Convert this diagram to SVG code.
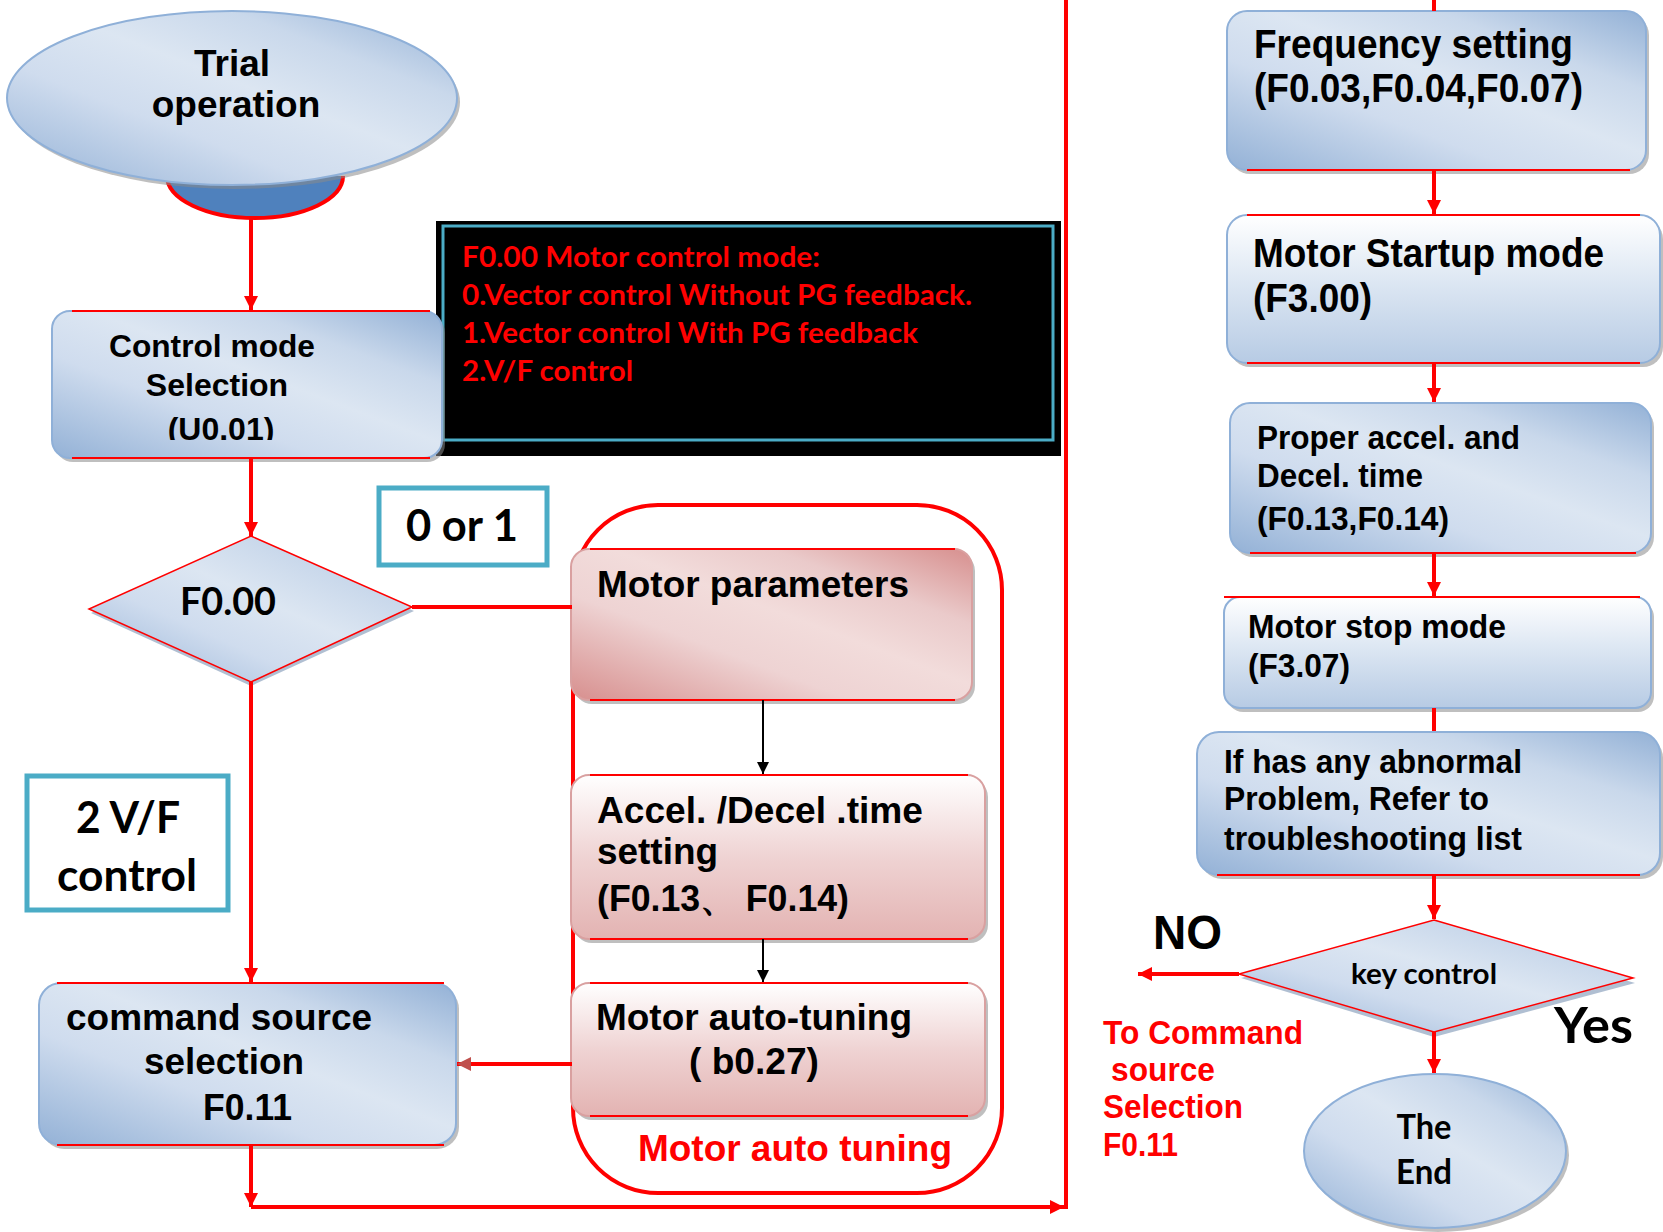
<svg xmlns="http://www.w3.org/2000/svg" width="1663" height="1232" viewBox="0 0 1663 1232">
<style>
.t{font-family:"Liberation Sans",Arial,sans-serif;font-weight:bold;fill:#000}
.c{font-family:Lato,"Open Sans",sans-serif;font-weight:bold;fill:#000}
.r{fill:#ff0000}
.bx{stroke:#8fb0d8;stroke-width:2}
.px{stroke:#d9a0a0;stroke-width:2}
.sh{fill:#8a8a8a;opacity:.55}
.rl{stroke:#ff0000;stroke-width:2;fill:none}
.ln{stroke:#ff0000;stroke-width:4;fill:none}
.bl{stroke:#000;stroke-width:2;fill:none}
.cy{fill:#fff;stroke:#4bacc6;stroke-width:5}
</style>
<defs>
<linearGradient id="gB" x1="0" y1="1" x2="1" y2="0">
<stop offset="0" stop-color="#93b1d6"/><stop offset="0.35" stop-color="#cfdcee"/><stop offset="0.55" stop-color="#dce6f2"/><stop offset="0.75" stop-color="#c9d8eb"/><stop offset="1" stop-color="#93b1d6"/>
</linearGradient>
<linearGradient id="gV" x1="0" y1="0" x2="0" y2="1">
<stop offset="0" stop-color="#ffffff"/><stop offset="0.45" stop-color="#dde7f3"/><stop offset="1" stop-color="#b7cbe4"/>
</linearGradient>
<linearGradient id="gP" x1="0" y1="1" x2="1" y2="0">
<stop offset="0" stop-color="#d78f8e"/><stop offset="0.35" stop-color="#eed3d3"/><stop offset="0.55" stop-color="#f2dcdb"/><stop offset="0.75" stop-color="#eacaca"/><stop offset="1" stop-color="#d78f8e"/>
</linearGradient>
<linearGradient id="gPV" x1="0" y1="0" x2="0" y2="1">
<stop offset="0" stop-color="#ffffff"/><stop offset="0.5" stop-color="#efd3d3"/><stop offset="1" stop-color="#e3b3b2"/>
</linearGradient>
<marker id="ar" viewBox="0 0 10 10" refX="10" refY="5" markerWidth="14" markerHeight="14" markerUnits="userSpaceOnUse" orient="auto">
<path d="M0,0 L10,5 L0,10 z" fill="#ff0000"/>
</marker>
<marker id="ad" viewBox="0 0 10 10" refX="10" refY="5" markerWidth="14" markerHeight="14" markerUnits="userSpaceOnUse" orient="auto">
<path d="M0,0 L10,5 L0,10 z" fill="#c0504d"/>
</marker>
<marker id="ab" viewBox="0 0 10 10" refX="10" refY="5" markerWidth="12" markerHeight="12" markerUnits="userSpaceOnUse" orient="auto">
<path d="M0,0 L10,5 L0,10 z" fill="#000"/>
</marker>
<clipPath id="clipCtl"><rect x="40" y="300" width="420" height="140"/></clipPath>
</defs>
<rect width="1663" height="1232" fill="#fff"/>

<g id="trial">
<path d="M167,176 A88,42 0 0 0 343,176 Z" fill="#4f81bd"/>
<path d="M167,176 A88,42 0 0 0 343,176" stroke="#ff0000" stroke-width="4" fill="none"/>
<ellipse cx="235" cy="102" rx="225" ry="87" class="sh"/>
<ellipse cx="232" cy="98" rx="225" ry="87" fill="url(#gB)" class="bx"/>
<text class="t" x="232" y="76" font-size="37" text-anchor="middle">Trial</text>
<text class="t" x="236" y="117" font-size="37" text-anchor="middle">operation</text>
</g>

<g id="modeinfo">
<rect x="436" y="221" width="625" height="235" fill="#000"/>
<rect x="443" y="226" width="610" height="214" fill="none" stroke="#4bacc6" stroke-width="3"/>
<text class="c r" x="462" y="267" font-size="28" textLength="358" lengthAdjust="spacingAndGlyphs">F0.00 Motor control mode:</text>
<text class="c r" x="462" y="305" font-size="28" textLength="510" lengthAdjust="spacingAndGlyphs">0.Vector control Without PG feedback.</text>
<text class="c r" x="462" y="343" font-size="28" textLength="456" lengthAdjust="spacingAndGlyphs">1.Vector control With PG feedback</text>
<text class="c r" x="462" y="381" font-size="28" textLength="171" lengthAdjust="spacingAndGlyphs">2.V/F control</text>
</g>

<g id="control">
<rect x="55" y="315" width="390" height="147" rx="18" class="sh"/>
<rect x="52" y="311" width="390" height="147" rx="18" fill="url(#gB)" class="bx"/>
<line x1="72" y1="311" x2="430" y2="311" class="rl"/>
<line x1="72" y1="458" x2="430" y2="458" class="rl"/>
<g clip-path="url(#clipCtl)">
<text class="t" x="212" y="357" font-size="32" text-anchor="middle" textLength="206" lengthAdjust="spacingAndGlyphs">Control mode</text>
<text class="t" x="217" y="396" font-size="32" text-anchor="middle">Selection</text>
<text class="t" x="221" y="440" font-size="32" text-anchor="middle">(U0.01)</text>
</g>
</g>

<g id="f000">
<polygon points="251,540 414,611 251,686 91,613" fill="#8fa4bf" opacity="0.7"/>
<polygon points="251,536 412,607 251,682 89,609" fill="url(#gB)" stroke="#ff0000" stroke-width="1.5"/>
<text class="c" x="228" y="615" font-size="38" text-anchor="middle" textLength="96" lengthAdjust="spacingAndGlyphs">F0.00</text>
</g>

<g id="label01">
<rect x="379" y="488" width="168" height="77" class="cy"/>
<text class="c" x="462" y="541" font-size="44" text-anchor="middle" textLength="112" lengthAdjust="spacingAndGlyphs">0 or 1</text>
</g>

<g id="labelvf">
<rect x="27" y="776" width="201" height="134" class="cy"/>
<text class="c" x="128" y="833" font-size="44" text-anchor="middle" textLength="104" lengthAdjust="spacingAndGlyphs">2 V/F</text>
<text class="c" x="127" y="891" font-size="44" text-anchor="middle" textLength="140" lengthAdjust="spacingAndGlyphs">control</text>
</g>

<g id="command">
<rect x="42" y="987" width="417" height="162" rx="22" class="sh"/>
<rect x="39" y="983" width="417" height="162" rx="22" fill="url(#gB)" class="bx"/>
<line x1="57" y1="983" x2="444" y2="983" class="rl"/>
<line x1="57" y1="1145" x2="444" y2="1145" class="rl"/>
<text class="t" x="66" y="1030" font-size="37" textLength="306" lengthAdjust="spacingAndGlyphs">command source</text>
<text class="t" x="144" y="1074" font-size="37" textLength="160" lengthAdjust="spacingAndGlyphs">selection</text>
<text class="t" x="203" y="1120" font-size="37" textLength="89" lengthAdjust="spacingAndGlyphs">F0.11</text>
</g>

<g id="autotuning-group">
<rect x="573" y="505" width="429" height="688" rx="85" fill="none" stroke="#ff0000" stroke-width="4"/>
<text class="t r" x="638" y="1161" font-size="37" textLength="314" lengthAdjust="spacingAndGlyphs">Motor auto tuning</text>
</g>

<g id="motorparams">
<rect x="574" y="553" width="401" height="151" rx="18" class="sh"/>
<rect x="571" y="549" width="401" height="151" rx="18" fill="url(#gP)" class="px"/>
<line x1="590" y1="549" x2="955" y2="549" class="rl"/>
<line x1="590" y1="700" x2="955" y2="700" class="rl"/>
<text class="t" x="597" y="597" font-size="37" textLength="312" lengthAdjust="spacingAndGlyphs">Motor parameters</text>
</g>

<g id="acceltime">
<rect x="574" y="779" width="414" height="164" rx="18" class="sh"/>
<rect x="571" y="775" width="414" height="164" rx="18" fill="url(#gPV)" class="px"/>
<line x1="590" y1="775" x2="968" y2="775" class="rl"/>
<line x1="590" y1="939" x2="968" y2="939" class="rl"/>
<text class="t" x="597" y="823" font-size="37" textLength="326" lengthAdjust="spacingAndGlyphs">Accel. /Decel .time</text>
<text class="t" x="597" y="864" font-size="37" textLength="121" lengthAdjust="spacingAndGlyphs">setting</text>
<text class="t" x="597" y="911" font-size="37" textLength="252" lengthAdjust="spacingAndGlyphs">(F0.13、 F0.14)</text>
</g>

<g id="autotune">
<rect x="574" y="987" width="414" height="133" rx="18" class="sh"/>
<rect x="571" y="983" width="414" height="133" rx="18" fill="url(#gPV)" class="px"/>
<line x1="590" y1="983" x2="968" y2="983" class="rl"/>
<line x1="590" y1="1116" x2="968" y2="1116" class="rl"/>
<text class="t" x="596" y="1030" font-size="37" textLength="316" lengthAdjust="spacingAndGlyphs">Motor auto-tuning</text>
<text class="t" x="689" y="1074" font-size="37" textLength="130" lengthAdjust="spacingAndGlyphs">( b0.27)</text>
</g>

<g id="freq">
<rect x="1230" y="15" width="419" height="159" rx="20" class="sh"/>
<rect x="1227" y="11" width="419" height="159" rx="20" fill="url(#gB)" class="bx"/>
<line x1="1247" y1="170" x2="1630" y2="170" class="rl"/>
<text class="t" x="1254" y="58" font-size="40" textLength="319" lengthAdjust="spacingAndGlyphs">Frequency setting</text>
<text class="t" x="1254" y="102" font-size="40" textLength="329" lengthAdjust="spacingAndGlyphs">(F0.03,F0.04,F0.07)</text>
</g>

<g id="startup">
<rect x="1230" y="219" width="433" height="148" rx="20" class="sh"/>
<rect x="1227" y="215" width="433" height="148" rx="20" fill="url(#gV)" class="bx"/>
<line x1="1247" y1="215" x2="1640" y2="215" class="rl"/>
<line x1="1247" y1="363" x2="1640" y2="363" class="rl"/>
<text class="t" x="1253" y="267" font-size="40" textLength="351" lengthAdjust="spacingAndGlyphs">Motor Startup mode</text>
<text class="t" x="1253" y="312" font-size="40" textLength="119" lengthAdjust="spacingAndGlyphs">(F3.00)</text>
</g>

<g id="proper">
<rect x="1233" y="407" width="421" height="150" rx="20" class="sh"/>
<rect x="1230" y="403" width="421" height="150" rx="20" fill="url(#gB)" class="bx"/>
<line x1="1250" y1="553" x2="1636" y2="553" class="rl"/>
<text class="t" x="1257" y="449" font-size="34" textLength="263" lengthAdjust="spacingAndGlyphs">Proper accel. and</text>
<text class="t" x="1257" y="487" font-size="34" textLength="166" lengthAdjust="spacingAndGlyphs">Decel. time</text>
<text class="t" x="1257" y="530" font-size="34" textLength="192" lengthAdjust="spacingAndGlyphs">(F0.13,F0.14)</text>
</g>

<g id="stop">
<rect x="1227" y="601" width="427" height="111" rx="16" class="sh"/>
<rect x="1224" y="597" width="427" height="111" rx="16" fill="url(#gV)" class="bx"/>
<line x1="1224" y1="597" x2="1640" y2="597" class="rl"/>
<text class="t" x="1248" y="638" font-size="34" textLength="258" lengthAdjust="spacingAndGlyphs">Motor stop mode</text>
<text class="t" x="1248" y="677" font-size="34" textLength="102" lengthAdjust="spacingAndGlyphs">(F3.07)</text>
</g>

<g id="abnormal">
<rect x="1200" y="736" width="463" height="143" rx="22" class="sh"/>
<rect x="1197" y="732" width="463" height="143" rx="22" fill="url(#gB)" class="bx"/>
<line x1="1217" y1="875" x2="1640" y2="875" class="rl"/>
<text class="t" x="1224" y="773" font-size="34" textLength="298" lengthAdjust="spacingAndGlyphs">If has any abnormal</text>
<text class="t" x="1224" y="810" font-size="34" textLength="265" lengthAdjust="spacingAndGlyphs">Problem, Refer to</text>
<text class="t" x="1224" y="850" font-size="34" textLength="298" lengthAdjust="spacingAndGlyphs">troubleshooting list</text>
</g>

<g id="keycontrol">
<polygon points="1434,924 1635,983 1434,1037 1241,978" fill="#8fa4bf" opacity="0.7"/>
<polygon points="1434,920 1633,978 1434,1032 1239,974" fill="url(#gB)" stroke="#ff0000" stroke-width="1.5"/>
<text class="c" x="1424" y="984" font-size="28" text-anchor="middle" textLength="146" lengthAdjust="spacingAndGlyphs">key control</text>
</g>

<g id="labels">
<text class="t" x="1153" y="949" font-size="48" textLength="69" lengthAdjust="spacingAndGlyphs">NO</text>
<text class="c" x="1554" y="1043" font-size="50" textLength="79" lengthAdjust="spacingAndGlyphs">Yes</text>
<text class="t r" x="1103" y="1044" font-size="34" textLength="200" lengthAdjust="spacingAndGlyphs">To Command</text>
<text class="t r" x="1111" y="1081" font-size="34" textLength="104" lengthAdjust="spacingAndGlyphs">source</text>
<text class="t r" x="1103" y="1118" font-size="34" textLength="140" lengthAdjust="spacingAndGlyphs">Selection</text>
<text class="t r" x="1103" y="1156" font-size="34" textLength="75" lengthAdjust="spacingAndGlyphs">F0.11</text>
</g>

<g id="end">
<ellipse cx="1438" cy="1155" rx="131" ry="77" class="sh"/>
<ellipse cx="1435" cy="1151" rx="131" ry="77" fill="url(#gB)" class="bx"/>
<text class="c" x="1424" y="1139" font-size="34" text-anchor="middle" textLength="55" lengthAdjust="spacingAndGlyphs">The</text>
<text class="c" x="1424" y="1184" font-size="34" text-anchor="middle" textLength="56" lengthAdjust="spacingAndGlyphs">End</text>
</g>

<g id="connectors">
<path d="M251,217 V310" class="ln" marker-end="url(#ar)"/>
<path d="M251,458 V536" class="ln" marker-end="url(#ar)"/>
<path d="M251,682 V982" class="ln" marker-end="url(#ar)"/>
<path d="M412,607 H572" class="ln"/>
<path d="M763,700 V774" class="bl" marker-end="url(#ab)"/>
<path d="M763,939 V982" class="bl" marker-end="url(#ab)"/>
<path d="M572,1064 H457" class="ln" marker-end="url(#ad)"/>
<path d="M251,1145 V1207" class="ln" marker-end="url(#ar)"/>
<path d="M251,1207 H1064" class="ln" marker-end="url(#ar)"/>
<path d="M1066,1209 V0" class="ln"/>
<path d="M1434,0 V11" class="ln"/>
<path d="M1434,170 V214" class="ln" marker-end="url(#ar)"/>
<path d="M1434,363 V402" class="ln" marker-end="url(#ar)"/>
<path d="M1434,553 V596" class="ln" marker-end="url(#ar)"/>
<path d="M1434,708 V731" class="ln"/>
<path d="M1434,875 V919" class="ln" marker-end="url(#ar)"/>
<path d="M1239,974 H1138" class="ln" marker-end="url(#ar)"/>
<path d="M1434,1032 V1073" class="ln" marker-end="url(#ar)"/>
</g>
</svg>
